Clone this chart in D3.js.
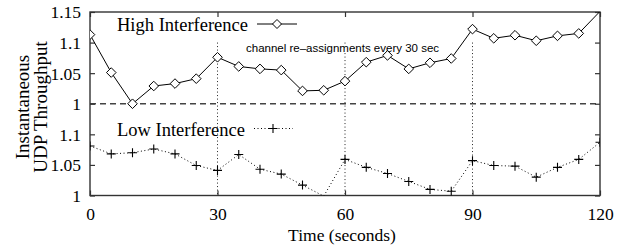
<!DOCTYPE html>
<html>
<head>
<meta charset="utf-8">
<script src="https://cdn.jsdelivr.net/npm/d3@7"></script>
<style>
html,body{margin:0;padding:0;background:#fff;}
svg{display:block;}
</style>
</head>
<body>
<svg id="chart" width="623" height="247"></svg>
<script>
const times = [0,5,10,15,20,25,30,35,40,45,50,55,60,65,70,75,80,85,90,95,100,105,110,115,120];
const highInterference = [1.113,1.051,1.0,1.029,1.033,1.041,1.076,1.061,1.057,1.055,1.021,1.022,1.037,1.068,1.079,1.057,1.067,1.074,1.122,1.107,1.112,1.103,1.111,1.115,1.151];
const lowInterference = [1.081,1.068,1.070,1.076,1.068,1.049,1.041,1.067,1.043,1.035,1.017,0.999,1.059,1.046,1.036,1.023,1.010,1.007,1.057,1.049,1.048,1.030,1.046,1.059,1.087];
const lowOffset = 0.15;
const upperTicks = [1, 1.05, 1.1, 1.15];
const lowerTicks = [1, 1.05, 1.1];
const xTicks = [0, 30, 60, 90, 120];
const reassignTimes = [30, 60, 90];
const seriesNames = ["High Interference", "Low Interference"];
const annotation = "channel re\u2013assignments every 30 sec";
const xTitle = "Time (seconds)";
const yTitle = ["Instantaneous", "UDP Throughput"];

const svg = d3.select("#chart");
const L = 90, R = 600, T = 12, B = 195.5;
const x = d3.scaleLinear().domain([0,120]).range([L,R]);
const y = d3.scaleLinear().domain([0.85,1.15]).range([B,T]);
const serif = "'Liberation Serif','Times New Roman',Times,serif";
const tickFs = 17.5, legFs = 18.5, xtFs = 17.5, ytFs = 19;

svg.append("defs").append("clipPath").attr("id","clip")
  .append("rect").attr("x",L).attr("y",T).attr("width",R-L).attr("height",B-T);

const yTickVals = upperTicks.concat(lowerTicks.map(v => v - lowOffset));
const yTickLabels = upperTicks.map(String).concat(lowerTicks.map(String));
const fmtY = (d,i) => yTickLabels[i];

// dashed separator
svg.append("line").attr("x1",L).attr("x2",R).attr("y1",y(1)).attr("y2",y(1))
  .attr("stroke","#444").attr("stroke-width",1.3).attr("stroke-dasharray","6,4");

// reassignment dotted lines
svg.selectAll(".reassign").data(reassignTimes).enter().append("line")
  .attr("x1",d=>x(d)).attr("x2",d=>x(d)).attr("y1",y(1.1)).attr("y2",B)
  .attr("stroke","#222").attr("stroke-width",1).attr("stroke-dasharray","1,2.5");

// annotation with opaque background
const annG = svg.append("g");
const annBg = annG.append("rect").attr("fill","#fff");
const ann = annG.append("text").attr("x",246).attr("y",52).attr("font-family","'Liberation Sans',Arial,Helvetica,sans-serif")
  .attr("font-size",11.5).text(annotation);
const bb = ann.node().getBBox();
annBg.attr("x",bb.x).attr("y",bb.y+2).attr("width",bb.width).attr("height",bb.height-4);

// axes
function styleAxis(g, labels){
  g.select(".domain").remove();
  g.selectAll(".tick line").attr("stroke","#333").attr("stroke-width",1.2);
  g.selectAll(".tick text").attr("font-family",serif).attr("font-size",tickFs).attr("fill","#000");
  if(!labels) g.selectAll(".tick text").remove();
}
svg.append("g").attr("transform",`translate(${L},0)`)
  .call(d3.axisLeft(y).tickValues(yTickVals).tickFormat(fmtY).tickSize(-5).tickPadding(9))
  .call(g=>styleAxis(g,true))
  .call(g=>g.selectAll(".tick text").attr("dy","0.34em"));
svg.append("g").attr("transform",`translate(${R},0)`)
  .call(d3.axisRight(y).tickValues(yTickVals).tickSize(-5))
  .call(g=>styleAxis(g,false));
svg.append("g").attr("transform",`translate(0,${B})`)
  .call(d3.axisBottom(x).tickValues(xTicks).tickFormat(d3.format("d")).tickSize(-5).tickPadding(12))
  .call(g=>styleAxis(g,true))
  .call(g=>g.selectAll(".tick text").attr("dy","0.71em"));
svg.append("g").attr("transform",`translate(0,${T})`)
  .call(d3.axisTop(x).tickValues(xTicks).tickSize(-5))
  .call(g=>styleAxis(g,false));

// border
svg.append("rect").attr("x",L).attr("y",T).attr("width",R-L).attr("height",B-T)
  .attr("fill","none").attr("stroke","#333").attr("stroke-width",1.4);

// series
const high = times.map((t,i)=>({t, v: highInterference[i]}));
const low = times.map((t,i)=>({t, v: lowInterference[i] - lowOffset}));
const line = d3.line().x(d=>x(d.t)).y(d=>y(d.v));
const plot = svg.append("g").attr("clip-path","url(#clip)");
plot.append("path").datum(high).attr("d",line).attr("fill","none").attr("stroke","#000").attr("stroke-width",1);
plot.append("path").datum(low).attr("d",line).attr("fill","none").attr("stroke","#000").attr("stroke-width",1).attr("stroke-dasharray","1,2.5");

const diamond = (cx,cy,r) => `M${cx},${cy-r}L${cx+r},${cy}L${cx},${cy+r}L${cx-r},${cy}Z`;
const plus = (cx,cy,r) => `M${cx-r},${cy}H${cx+r}M${cx},${cy-r}V${cy+r}`;
const inDomain = d => d.v >= 0.85 && d.v <= 1.15;
plot.selectAll(".hp").data(high.filter(inDomain)).enter().append("path")
  .attr("d",d=>diamond(x(d.t),y(d.v),4.8)).attr("fill","#fff").attr("stroke","#000").attr("stroke-width",1);
plot.selectAll(".lp").data(low.filter(inDomain)).enter().append("path")
  .attr("d",d=>plus(x(d.t),y(d.v),4.5)).attr("fill","none").attr("stroke","#000").attr("stroke-width",1.1);

// legends
svg.append("text").attr("x",117).attr("y",30.5).attr("font-family",serif).attr("font-size",legFs).text(seriesNames[0]);
svg.append("line").attr("x1",257).attr("x2",297).attr("y1",24).attr("y2",24).attr("stroke","#000");
svg.append("path").attr("d",diamond(277,24,4.5)).attr("fill","#fff").attr("stroke","#000");
svg.append("text").attr("x",117).attr("y",135.5).attr("font-family",serif).attr("font-size",legFs).text(seriesNames[1]);
svg.append("line").attr("x1",254).attr("x2",293).attr("y1",128.5).attr("y2",128.5).attr("stroke","#000").attr("stroke-dasharray","1,2.5");
svg.append("path").attr("d",plus(273,128.5,4.5)).attr("stroke","#000").attr("stroke-width",1.1);

// axis titles
svg.append("text").attr("x",342).attr("y",241).attr("text-anchor","middle").attr("font-family",serif).attr("font-size",xtFs).text(xTitle);
const yt = svg.append("g").attr("transform","translate(0,107)");
yt.append("text").attr("transform","translate(28.5,0) rotate(-90)").attr("text-anchor","middle").attr("font-family",serif).attr("font-size",ytFs).text(yTitle[0]);
yt.append("text").attr("transform","translate(46.5,0) rotate(-90)").attr("text-anchor","middle").attr("font-family",serif).attr("font-size",ytFs).text(yTitle[1]);
</script>
</body>
</html>
